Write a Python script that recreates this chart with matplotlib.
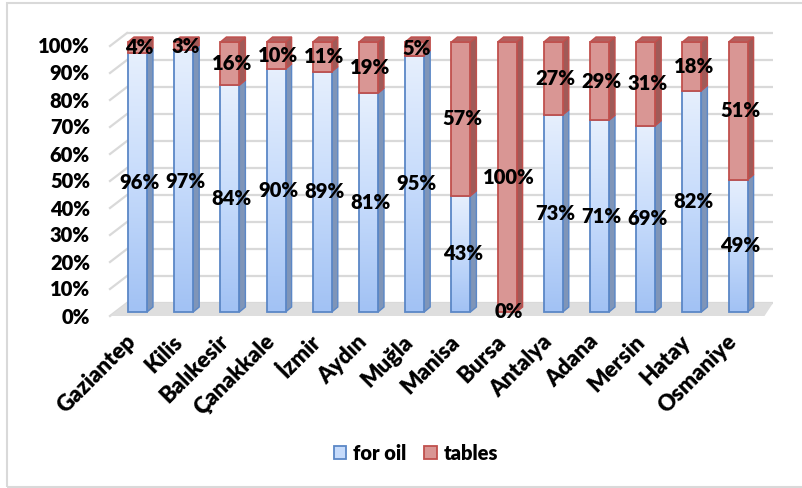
import numpy as np
import matplotlib
matplotlib.use("Agg")
import matplotlib.pyplot as plt
from matplotlib.patches import Rectangle, Polygon, Patch
from matplotlib.colors import LinearSegmentedColormap

plt.rcParams['font.family'] = ['Lato', 'DejaVu Sans']

cities = ["Gaziantep", "Kilis", "Balıkesir", "Çanakkale", "İzmir", "Aydın", "Muğla",
          "Manisa", "Bursa", "Antalya", "Adana", "Mersin", "Hatay", "Osmaniye"]
for_oil = [96, 97, 84, 90, 89, 81, 95, 43, 0, 73, 71, 69, 82, 49]
tables = [4, 3, 16, 10, 11, 19, 5, 57, 100, 27, 29, 31, 18, 51]
y_ticks = [0, 10, 20, 30, 40, 50, 60, 70, 80, 90, 100]
series_names = ["for oil", "tables"]

W, H = 803, 488
fig = plt.figure(figsize=(W / 100, H / 100), dpi=100)

# axes placed so one category step is ~46 px and 1 % is 2.7 px
PX_X, PX_Y = 46.2, 2.7
ax = fig.add_axes([100 / W, 1 - 330 / H, 690 / W, 310 / H])
xlim = ((100 - 137.5) / PX_X, (790 - 137.5) / PX_X)
ylim = ((312 - 330) / PX_Y, (312 - 20) / PX_Y)
ax.set_axis_off()

fs = 14.5
fs_cat = 16
fw = 'heavy'
bw = 19 / PX_X            # front face width
ddx, ddy = 6 / PX_X, 5 / PX_Y   # bar depth
wdy = 9 / PX_Y            # back wall offset
wall_x0, wall_x1 = (127 - 137.5) / PX_X, (773 - 137.5) / PX_X
front_x0 = (110 - 137.5) / PX_X
front_dy = -4 / PX_Y

grid_c = '#d9d9d9'
# floor
ax.add_patch(Polygon([(front_x0, front_dy), (wall_x0, wdy), (wall_x1, wdy),
                      (wall_x1 - (wall_x0 - front_x0) * 0.5, front_dy)],
                     closed=True, facecolor='#dedede', edgecolor='none', zorder=1))
# back wall gridlines and left wall slants
for t in y_ticks:
    ax.plot([wall_x0, wall_x1], [t + wdy, t + wdy], color=grid_c, lw=1.6, zorder=0.5,
            solid_capstyle='butt')
    ax.plot([front_x0, wall_x0], [t + front_dy, t + wdy], color=grid_c, lw=1.6, zorder=0.5)
    ax.text((90 - 137.5) / PX_X, t - 5 / PX_Y, f"{t}%", ha='right', va='center',
            fontsize=fs, fontweight=fw, color='black')

blue_cmap = LinearSegmentedColormap.from_list('b', ['#a2c2f4', '#c6dbfb', '#e6effd'])
blue_edge = '#5b87c6'
blue_side = '#7f95b8'
red_face = '#d99694'
red_edge = '#c0504d'
red_side = '#a05a58'
red_top = '#b4605e'
grad = np.linspace(0, 1, 64).reshape(-1, 1)

for i, (b, r) in enumerate(zip(for_oil, tables)):
    xl, xr = i - bw / 2, i + bw / 2
    # blue front with vertical gradient
    if b > 0:
        rect = Rectangle((xl, 0), bw, b, facecolor='none', edgecolor=blue_edge, lw=1.3, zorder=4)
        ax.add_patch(rect)
        im = ax.imshow(grad, cmap=blue_cmap, extent=(xl, xr, 0, b), origin='lower',
                       aspect='auto', zorder=3, interpolation='bilinear')
        im.set_clip_path(rect)
        ax.add_patch(Polygon([(xr, 0), (xr + ddx, ddy), (xr + ddx, b + ddy), (xr, b)],
                             closed=True, facecolor=blue_side, edgecolor=blue_edge,
                             lw=1.0, zorder=2.5))
    if r > 0:
        ax.bar(i, r, bottom=b, width=bw, color=red_face, edgecolor=red_edge, lw=1.3, zorder=4)
        ax.add_patch(Polygon([(xr, b), (xr + ddx, b + ddy), (xr + ddx, b + r + ddy), (xr, b + r)],
                             closed=True, facecolor=red_side, edgecolor=red_edge,
                             lw=1.0, zorder=2.5))
    top = b + r
    topc = red_top if r > 0 else '#c6dbfb'
    ax.add_patch(Polygon([(xl, top), (xl + ddx, top + ddy), (xr + ddx, top + ddy), (xr, top)],
                         closed=True, facecolor=topc, edgecolor=red_edge if r > 0 else blue_edge,
                         lw=1.0, zorder=4.5))
    # value labels
    ax.text(i + 0.04, b / 2, f"{b}%", ha='center', va='center', fontsize=fs,
            fontweight=fw, zorder=6)
    ax.text(i + 0.04, b + r / 2, f"{r}%", ha='center', va='center', fontsize=fs,
            fontweight=fw, zorder=6)
    # category labels
    ax.text(i - 0.26, (312 - 331) / PX_Y, cities[i], rotation=45, rotation_mode='anchor',
            ha='right', va='top', fontsize=fs_cat, fontweight=fw, clip_on=False)

ax.set_xlim(*xlim)
ax.set_ylim(*ylim)

handles = [Patch(facecolor='#c6dbfb', edgecolor=blue_edge, lw=1.3),
           Patch(facecolor=red_face, edgecolor=red_edge, lw=1.3)]
fig.legend(handles, series_names, loc='center', bbox_to_anchor=(416 / W, 1 - 453 / H),
           ncol=2, frameon=False, handlelength=0.62, handleheight=0.62,
           handletextpad=0.35, columnspacing=0.9,
           prop={'size': fs, 'weight': fw})

fig.add_artist(Rectangle((7 / W, 1 / H), (W - 7) / W + 0.01, (487 - 3) / H,
                         transform=fig.transFigure, fill=False, edgecolor='#d9d9d9',
                         lw=1.5))

fig.savefig('out.png', dpi=100)
